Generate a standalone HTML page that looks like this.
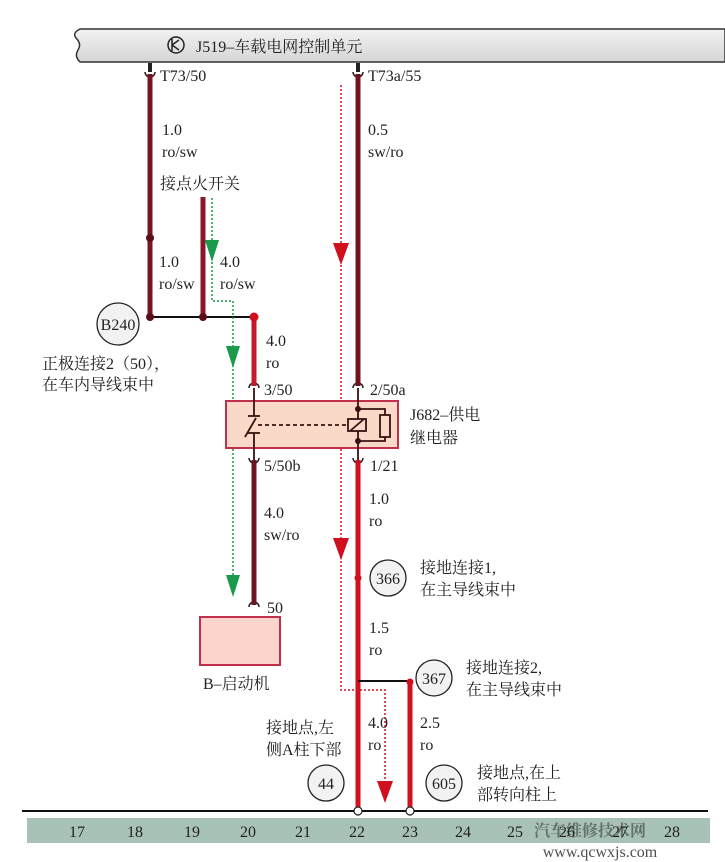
<!DOCTYPE html>
<html><head><meta charset="utf-8"><style>
html,body{margin:0;padding:0;background:#fff;}
svg{display:block;}
text{font-family:"Liberation Serif","Noto Serif CJK SC",serif;font-size:16px;fill:#222;}
</style></head><body>
<svg width="725" height="862" viewBox="0 0 725 862" xmlns="http://www.w3.org/2000/svg">
<defs>
<linearGradient id="hg" x1="0" y1="0" x2="0" y2="1"><stop offset="0" stop-color="#f2f2f2"/><stop offset="1" stop-color="#d6d6d6"/></linearGradient>
</defs>
<path d="M80,29 L725,29 L725,62 L80,62 Q74,56 78,50 Q82,44 76,38 Q72,33 80,29 Z" fill="url(#hg)" stroke="#333" stroke-width="1.5"/>
<circle cx="176" cy="45" r="8" fill="none" stroke="#222" stroke-width="1.5"/>
<path d="M172,39 V51 M172,45 L179,40 M172,45 L179,50" stroke="#222" stroke-width="1.5" fill="none"/>
<text x="196" y="52" font-size="17.5">J519–车载电网控制单元</text>

<g fill="none" stroke="#222" stroke-width="1.5">
<path d="M145,72 A5,5 0 0 0 155,72"/><path d="M353,72 A5,5 0 0 0 363,72"/>
<path d="M249,388 A5,5 0 0 1 259,388"/><path d="M353,388 A5,5 0 0 1 363,388"/>
<path d="M249,458 A5,5 0 0 0 259,458"/><path d="M353,458 A5,5 0 0 0 363,458"/>
<path d="M249,607 A5,5 0 0 1 259,607"/>
</g>
<rect x="148" y="63" width="4" height="9" fill="#222"/><rect x="356" y="63" width="4" height="9" fill="#222"/>

<g stroke-linecap="butt">
<line x1="150" y1="74" x2="150" y2="317" stroke="#7a1422" stroke-width="5"/>
<line x1="358" y1="74" x2="358" y2="386" stroke="#6e1420" stroke-width="5"/>
<line x1="203" y1="197" x2="203" y2="317" stroke="#8a1828" stroke-width="5"/>
<line x1="254" y1="317" x2="254" y2="386" stroke="#c41a2a" stroke-width="5"/>
<line x1="254" y1="460" x2="254" y2="605" stroke="#6e1420" stroke-width="5"/>
<line x1="358" y1="460" x2="358" y2="810" stroke="#d0101e" stroke-width="5"/>
<line x1="410" y1="680" x2="410" y2="810" stroke="#d0101e" stroke-width="5"/>
</g>
<line x1="150" y1="317" x2="254" y2="317" stroke="#111" stroke-width="2"/>
<line x1="358" y1="681" x2="410" y2="681" stroke="#111" stroke-width="2"/>
<circle cx="150" cy="238" r="4" fill="#5a0e18"/>
<circle cx="150" cy="317" r="4" fill="#5a0e18"/>
<circle cx="203" cy="317" r="4" fill="#5a0e18"/>
<circle cx="254" cy="317" r="4.5" fill="#d0101e"/>
<circle cx="358" cy="578" r="3.5" fill="#d0101e"/>
<circle cx="410" cy="682" r="3.5" fill="#d0101e"/>

<path d="M212,198 V301 H233 V585" fill="none" stroke="#1a9a4a" stroke-width="1.5" stroke-dasharray="2,2"/>
<path d="M205,240 L219,240 L212,262 Z M226,346 L240,346 L233,368 Z M226,575 L240,575 L233,597 Z" fill="#1a9a4a"/>
<path d="M341,85 V690 H385 V790" fill="none" stroke="#d0101e" stroke-width="1.5" stroke-dasharray="2,2"/>
<path d="M333,243 L349,243 L341,265 Z M333,538 L349,538 L341,560 Z M377,781 L393,781 L385,803 Z" fill="#d0101e"/>

<rect x="226" y="401" width="172" height="47" fill="#fbd9c8" stroke="#c0304a" stroke-width="2"/>
<g stroke="#3a1010" stroke-width="1.8" fill="none">
<line x1="254" y1="388" x2="254" y2="416"/><line x1="248" y1="416" x2="260" y2="416"/>
<line x1="254" y1="433" x2="254" y2="460"/><line x1="248" y1="433" x2="260" y2="433"/>
<line x1="245" y1="437" x2="256" y2="418"/>
<line x1="258" y1="425" x2="348" y2="425" stroke-dasharray="4,3"/>
<line x1="358" y1="388" x2="358" y2="460"/>
<rect x="348" y="419" width="18" height="12" fill="#fbd9c8"/>
<line x1="350" y1="431" x2="364" y2="419"/>
<path d="M358,409 H385 V441 H358"/>
<rect x="380" y="415" width="10" height="22" fill="#fbd9c8"/>
</g>
<circle cx="358" cy="409" r="3" fill="#3a1010"/><circle cx="358" cy="441" r="3" fill="#3a1010"/>

<rect x="200" y="617" width="80" height="48" fill="#fbd5cc" stroke="#c0304a" stroke-width="2"/>

<g fill="#f2f2f2" stroke="#222" stroke-width="1.3">
<circle cx="118" cy="324" r="21"/><circle cx="388" cy="578" r="18"/><circle cx="434" cy="678" r="18"/>
<circle cx="326" cy="783" r="18"/><circle cx="444" cy="783" r="18"/>
</g>
<text x="118" y="330" text-anchor="middle">B240</text>
<text x="388" y="584" text-anchor="middle">366</text>
<text x="434" y="684" text-anchor="middle">367</text>
<text x="326" y="789" text-anchor="middle">44</text>
<text x="444" y="789" text-anchor="middle">605</text>

<text x="160" y="81">T73/50</text>
<text x="368" y="81">T73a/55</text>
<text x="162" y="135">1.0</text><text x="162" y="157">ro/sw</text>
<text x="368" y="135">0.5</text><text x="368" y="157">sw/ro</text>
<text x="160" y="189">接点火开关</text>
<text x="159" y="267">1.0</text><text x="159" y="289">ro/sw</text>
<text x="220" y="267">4.0</text><text x="220" y="289">ro/sw</text>
<text x="266" y="346">4.0</text><text x="266" y="368">ro</text>
<text x="42" y="369">正极连接2（50），</text>
<text x="42" y="390">在车内导线束中</text>
<text x="264" y="395">3/50</text>
<text x="370" y="395">2/50a</text>
<text x="410" y="420">J682–供电</text>
<text x="410" y="443">继电器</text>
<text x="264" y="471">5/50b</text>
<text x="370" y="471">1/21</text>
<text x="264" y="518">4.0</text><text x="264" y="540">sw/ro</text>
<text x="369" y="504">1.0</text><text x="369" y="526">ro</text>
<text x="420" y="573">接地连接1,</text><text x="420" y="595">在主导线束中</text>
<text x="267" y="613">50</text>
<text x="369" y="633">1.5</text><text x="369" y="655">ro</text>
<text x="466" y="673">接地连接2,</text><text x="466" y="695">在主导线束中</text>
<text x="203" y="689">B–启动机</text>
<text x="266" y="733">接地点,左</text><text x="266" y="755">侧A柱下部</text>
<text x="368" y="728">4.0</text><text x="368" y="750">ro</text>
<text x="420" y="728">2.5</text><text x="420" y="750">ro</text>
<text x="477" y="778">接地点,在上</text><text x="477" y="800">部转向柱上</text>

<line x1="22" y1="811" x2="708" y2="811" stroke="#111" stroke-width="2"/>
<circle cx="358" cy="811" r="4" fill="#fff" stroke="#222" stroke-width="1.2"/>
<circle cx="410" cy="811" r="4" fill="#fff" stroke="#222" stroke-width="1.2"/>
<rect x="27" y="818" width="683" height="25" fill="#a9c2b7"/>
<text x="590" y="836" text-anchor="middle" font-family="Noto Sans CJK SC,sans-serif" font-size="40" font-weight="bold" fill="#6f8fb0" opacity="0.5">汽车维修技术网</text>
<g text-anchor="middle">
<text x="77" y="837">17</text><text x="135" y="837">18</text><text x="192" y="837">19</text><text x="248" y="837">20</text>
<text x="303" y="837">21</text><text x="357" y="837">22</text><text x="410" y="837">23</text><text x="463" y="837">24</text>
<text x="515" y="837">25</text><text x="567" y="837">26</text><text x="620" y="837">27</text><text x="672" y="837">28</text>
</g>
<text x="600" y="857" text-anchor="middle" font-family="Liberation Sans,sans-serif" font-size="22" fill="#f0b27a" opacity="0.8">www.qcwxjs.com</text>
</svg>
</body></html>
